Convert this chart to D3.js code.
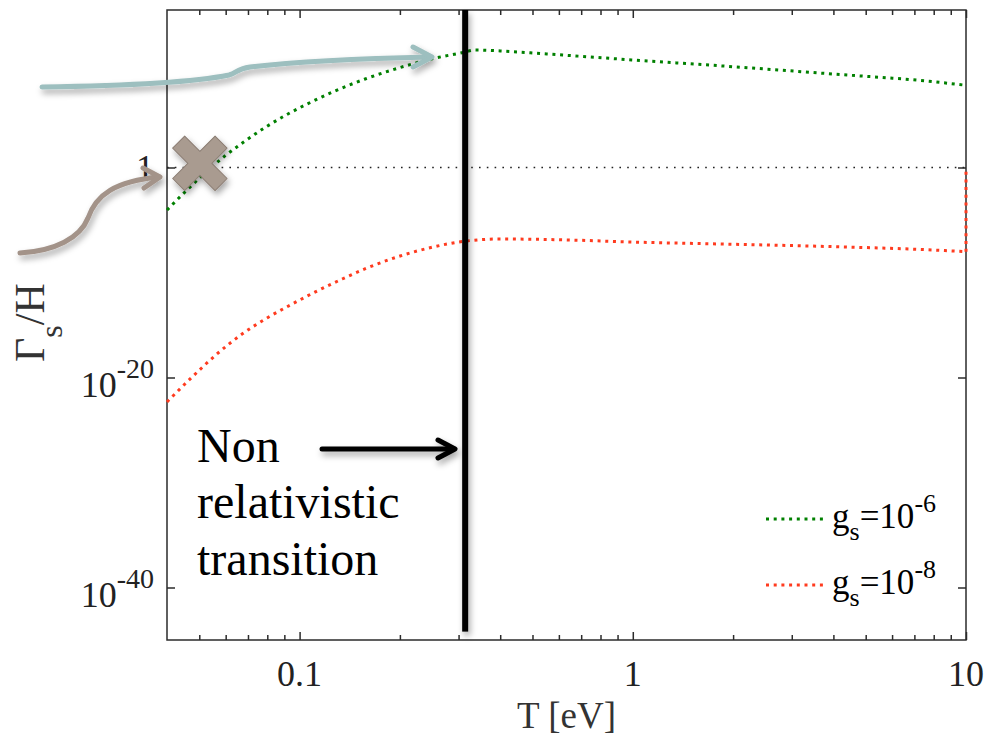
<!DOCTYPE html>
<html>
<head>
  <meta charset="UTF-8">
  <title>Gamma_s / H vs T</title>
  <script src="https://d3js.org/d3.v7.min.js"></script>
  <style>
    body { margin: 0; background: #fff; }
    text { font-family: "Liberation Serif", "Times New Roman", serif; }
  </style>
</head>
<body>
  <div id="chart"></div>
  <script>
    // T [eV] and log10(Gamma_s/H)
    const greenT   = [0.040, 0.0453, 0.0520, 0.0597, 0.0686, 0.0788, 0.0905, 0.1039, 0.1278, 0.1573, 0.2003, 0.2516, 0.3097, 0.3366, 0.40, 0.503, 1.0, 2.0, 4.0, 8.0, 10.0];
    const greenExp = [-4.05, -2.33, -0.52, 1.10, 2.52, 3.81, 4.95, 5.95, 7.29, 8.43, 9.52, 10.38, 10.95, 11.19, 11.10, 10.90, 10.24, 9.60, 8.90, 8.17, 7.83];

    const redT   = [0.040, 0.0476, 0.0565, 0.0672, 0.0799, 0.0950, 0.1129, 0.1342, 0.1595, 0.2003, 0.2516, 0.3076, 0.40, 0.636, 1.0, 2.0, 4.0, 8.0, 10.0, 10.0];
    const redExp = [-22.33, -19.95, -17.76, -15.86, -14.33, -13.0, -11.76, -10.62, -9.57, -8.43, -7.57, -7.05, -6.81, -6.9, -7.1, -7.31, -7.54, -7.86, -8.02, 0];

    const seriesNames  = ["-6", "-8"];
    const seriesColors = ["#008000", "#ff3b1f"];

    const xMajor = [0.1, 1, 10];
    const xMajorLabels = ["0.1", "1", "10"];
    const xMinor = [0.05, 0.06, 0.07, 0.08, 0.09, 0.2, 0.3, 0.4, 0.5, 0.6, 0.7, 0.8, 0.9, 2, 3, 4, 5, 6, 7, 8, 9];
    const yMajor = [1, 1e-20, 1e-40];
    const yMajorLabels = [["1", ""], ["10", "-20"], ["10", "-40"]];

    const transitionT = 0.314;
    const crossPoint = [0.0502, Math.pow(10, 0.4)];

    const W = 988, H = 739;
    const pLeft = 167, pRight = 966, pTop = 10, pBottom = 640;

    const svg = d3.select("#chart").append("svg")
      .attr("width", W).attr("height", H);

    const defs = svg.append("defs");
    const f = defs.append("filter").attr("id", "shadow")
      .attr("filterUnits", "userSpaceOnUse")
      .attr("x", 0).attr("y", 0).attr("width", W).attr("height", H);
    f.append("feDropShadow").attr("dx", 2).attr("dy", 4).attr("stdDeviation", 3)
      .attr("flood-color", "#000").attr("flood-opacity", 0.35);

    const x = d3.scaleLog().domain([0.04, 10]).range([pLeft, pRight]);
    const y = d3.scaleLog().domain([1e-45, 1e15]).range([pBottom, pTop]);

    // tick marks (inward, all four sides)
    const axisColor = "#2b2b2b";
    function ticks(axisFn, scale, values, size, transform) {
      const g = svg.append("g").attr("transform", transform)
        .call(axisFn(scale).tickValues(values).tickSize(size).tickFormat(""));
      g.select(".domain").remove();
      g.selectAll("line").attr("stroke", axisColor).attr("stroke-width", 1.5);
    }
    ticks(d3.axisBottom, x, xMajor, -8, `translate(0,${pBottom})`);
    ticks(d3.axisBottom, x, xMinor, -5, `translate(0,${pBottom})`);
    ticks(d3.axisTop, x, xMajor, -8, `translate(0,${pTop})`);
    ticks(d3.axisTop, x, xMinor, -5, `translate(0,${pTop})`);
    ticks(d3.axisLeft, y, yMajor, -8, `translate(${pLeft},0)`);
    ticks(d3.axisRight, y, yMajor, -8, `translate(${pRight},0)`);

    svg.append("rect")
      .attr("x", pLeft).attr("y", pTop).attr("width", pRight - pLeft).attr("height", pBottom - pTop)
      .attr("fill", "none").attr("stroke", axisColor).attr("stroke-width", 1.5);

    // tick labels
    svg.append("g").selectAll("text").data(xMajor).enter().append("text")
      .attr("x", d => x(d)).attr("y", 686)
      .attr("text-anchor", "middle").attr("font-size", 36).attr("fill", "#222")
      .text((d, i) => xMajorLabels[i]);

    const yl = svg.append("g").selectAll("text").data(yMajor).enter().append("text")
      .attr("x", 154)
      .attr("y", (d, i) => y(d) + (yMajorLabels[i][1] ? 19 : 12))
      .attr("text-anchor", "end").attr("font-size", 36).attr("fill", "#222");
    yl.append("tspan").text((d, i) => yMajorLabels[i][0]);
    yl.append("tspan").attr("font-size", 28).attr("dy", -19)
      .text((d, i) => yMajorLabels[i][1]);

    // axis titles
    svg.append("text").attr("x", (pLeft + pRight) / 2).attr("y", 728)
      .attr("text-anchor", "middle").attr("font-size", 37).attr("fill", "#333")
      .text("T [eV]");

    const yt = svg.append("text")
      .attr("transform", "translate(44,362) rotate(-90)")
      .attr("font-size", 42).attr("fill", "#333");
    yt.append("tspan").text("\u0393");
    yt.append("tspan").attr("font-size", 32).attr("dy", 18).text("s");
    yt.append("tspan").attr("dy", -18).text("/H");

    // y = 1 reference line
    svg.append("line")
      .attr("x1", pLeft).attr("x2", pRight).attr("y1", y(1)).attr("y2", y(1))
      .attr("stroke", "#222").attr("stroke-width", 1.6).attr("stroke-dasharray", "1.6 6.2");

    // curves
    const line = d3.line().x(d => x(d[0])).y(d => y(d[1])).curve(d3.curveMonotoneX);
    const greenData = greenT.map((t, i) => [t, Math.pow(10, greenExp[i])]);
    const redData = redT.map((t, i) => [t, Math.pow(10, redExp[i])]);
    const straight = d3.line().x(d => x(d[0])).y(d => y(d[1]));

    svg.append("path").datum(redData.slice(0, -1))
      .attr("d", line).attr("fill", "none")
      .attr("stroke", seriesColors[1]).attr("stroke-width", 3).attr("stroke-dasharray", "3 4.7");
    svg.append("path").datum(redData.slice(-2))
      .attr("d", straight).attr("fill", "none")
      .attr("stroke", seriesColors[1]).attr("stroke-width", 3).attr("stroke-dasharray", "3 4.7");
    svg.append("path").datum(greenData)
      .attr("d", line).attr("fill", "none")
      .attr("stroke", seriesColors[0]).attr("stroke-width", 3).attr("stroke-dasharray", "3 4.7");

    // non relativistic transition line
    const xt = x(transitionT);
    svg.append("rect")
      .attr("x", xt - 3).attr("width", 6)
      .attr("y", y(1e15)).attr("height", y(Math.pow(10, -44.2)) - y(1e15))
      .attr("fill", "#000")
      .attr("filter", "url(#shadow)");

    // annotation text + arrow
    const ann = svg.append("text").attr("x", 197).attr("font-size", 48).attr("fill", "#000");
    ["Non", "relativistic", "transition"].forEach((s, i) => {
      ann.append("tspan").attr("x", 197).attr("y", [462, 518, 575][i]).text(s);
    });
    const arrowY = 449;
    const blackArrow = svg.append("g").attr("filter", "url(#shadow)")
      .attr("fill", "none").attr("stroke", "#000").attr("stroke-width", 5)
      .attr("stroke-linecap", "round").attr("stroke-linejoin", "round");
    blackArrow.append("path").attr("d", `M322,${arrowY} L453,${arrowY}`);
    blackArrow.append("path").attr("d", `M438,${arrowY - 9} L455,${arrowY} L438,${arrowY + 9}`);

    // teal arrow
    const teal = svg.append("g").attr("filter", "url(#shadow)")
      .attr("fill", "none").attr("stroke", "#9dbfbf").attr("stroke-width", 5)
      .attr("stroke-linecap", "round").attr("stroke-linejoin", "round");
    teal.append("path").attr("d", "M42,87 C110,86 190,83 229,75 C237,73 236,69 250,67 C310,60 380,58 430,57");
    teal.append("path").attr("d", "M413,47 L432,57 L413,67");

    // brown arrow
    const brown = svg.append("g").attr("filter", "url(#shadow)")
      .attr("fill", "none").attr("stroke", "#a39389").attr("stroke-width", 5)
      .attr("stroke-linecap", "round").attr("stroke-linejoin", "round");
    brown.append("path").attr("d", "M20,253 C55,251 80,238 88,218 C96,195 115,181 159,177");
    brown.append("path").attr("d", "M143,168 L160,177 L144,188");

    // cross marker
    const w = 8.5, L = 30;
    const plus = `M${-w},${-L} L${w},${-L} L${w},${-w} L${L},${-w} L${L},${w} L${w},${w} L${w},${L} L${-w},${L} L${-w},${w} L${-L},${w} L${-L},${-w} L${-w},${-w} Z`;
    svg.append("g").attr("filter", "url(#shadow)")
      .append("path")
      .attr("d", plus)
      .attr("transform", `translate(${x(crossPoint[0])},${y(crossPoint[1])}) rotate(45)`)
      .attr("fill", "#a99b90").attr("stroke", "#8c7e74").attr("stroke-width", 1)
      .attr("stroke-linejoin", "round");

    // legend
    const legY = [519, 585];
    seriesNames.forEach((n, i) => {
      svg.append("line").attr("x1", 766).attr("x2", 825).attr("y1", legY[i]).attr("y2", legY[i])
        .attr("stroke", seriesColors[i]).attr("stroke-width", 3).attr("stroke-dasharray", "3 4.7");
      const t = svg.append("text").attr("x", 832).attr("y", legY[i] + 9)
        .attr("font-size", 35).attr("fill", "#000");
      t.append("tspan").text("g");
      t.append("tspan").attr("font-size", 26).attr("dy", 12).text("s");
      t.append("tspan").attr("dy", -12).text("=10");
      t.append("tspan").attr("font-size", 26).attr("dy", -16).text(n);
    });
  </script>
</body>
</html>
